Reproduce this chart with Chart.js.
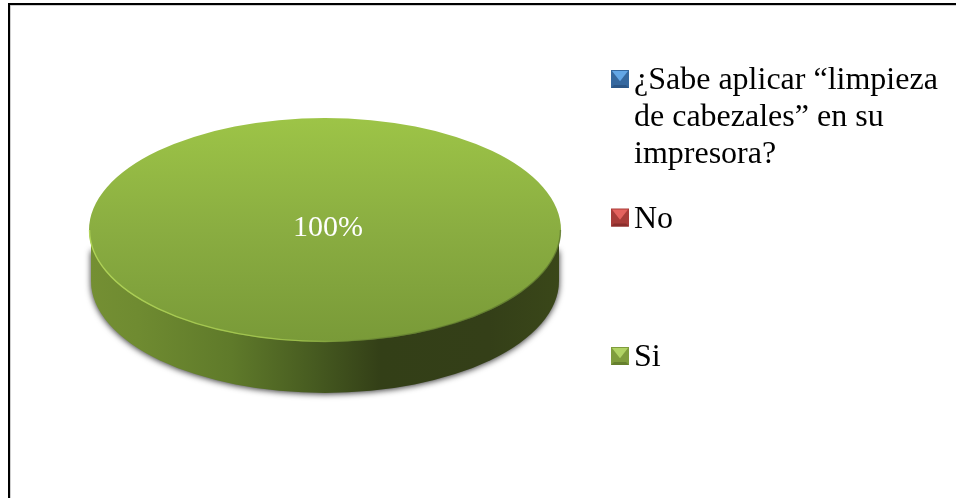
<!DOCTYPE html>
<html><head><meta charset="utf-8">
<script src="https://cdn.jsdelivr.net/npm/chart.js@4/dist/chart.umd.min.js"></script>
<style>html,body{margin:0;background:#fff}canvas{display:block}</style>
</head><body><canvas id="c" width="956" height="498"></canvas>
<script>
const categories = ["¿Sabe aplicar “limpieza de cabezales” en su impresora?", "No", "Si"];
const seriesValues = [0, 0, 100];
const legendLines = [["¿Sabe aplicar “limpieza", "de cabezales” en su", "impresora?"], ["No"], ["Si"]];
const legendBaselines = [89, 227.5, 366];
const markerBase = ["#35689f", "#a83c39", "#7f9c3c"];
const markerLight = ["#62a6e6", "#e4625e", "#b0d264"];
const markerDark = ["#2b5687", "#8a2e2c", "#66802e"];

const cfg = { tilt: 112 / 236, centerY: 230, depth: 51, sideInset: 2, labelFont: '30px "Liberation Serif"', legendFont: '32px "Liberation Serif"' };

function tx(ctx, a) {
  ctx.translate(a.x, cfg.centerY);
  ctx.scale(1, cfg.tilt);
  ctx.translate(-a.x, -a.y);
}
function slice(chart) { return chart.getDatasetMeta(0).data[seriesValues.length - 1]; }

const pie3d = {
  id: "pie3d",
  beforeDraw(chart) {
    const c = chart.ctx;
    c.save();
    c.fillStyle = "#000"; c.fillRect(8, 3, 948, 2); c.fillRect(8, 3, 2, 495);
    c.fillStyle = "#bbb"; c.fillRect(10, 5, 946, .7); c.fillRect(10, 5, .7, 493);
    c.restore();
  },
  beforeDatasetsDraw(chart) {
    const c = chart.ctx, a = slice(chart), r = a.outerRadius - cfg.sideInset, ry = a.outerRadius * cfg.tilt, cy = cfg.centerY, d = cfg.depth;
    c.save();
    c.beginPath();
    c.moveTo(a.x - r, cy + 20);
    c.lineTo(a.x - r, cy + d);
    c.ellipse(a.x, cy + d, r, ry, 0, Math.PI, 0, true);
    c.lineTo(a.x + r, cy + 20);
    c.closePath();
    const g = c.createLinearGradient(a.x - r, 0, a.x + r, 0);
    g.addColorStop(0, "#748f33"); g.addColorStop(.1, "#6f8b31"); g.addColorStop(.3, "#5f7a2a");
    g.addColorStop(.48, "#465a20"); g.addColorStop(.62, "#333f17"); g.addColorStop(.85, "#343f18"); g.addColorStop(1, "#3a4719");
    c.fillStyle = g;
    c.shadowColor = "rgba(0,0,0,.8)"; c.shadowBlur = 6; c.shadowOffsetY = 1;
    c.fill();
    c.shadowColor = "transparent";
    c.beginPath();
    c.moveTo(a.x - r, cy);
    c.lineTo(a.x - r, cy + d);
    c.lineTo(a.x + r, cy + d);
    c.lineTo(a.x + r, cy);
    c.closePath();
    c.fill();
    c.restore();
    c.save();
    tx(c, a);
  },
  afterDatasetsDraw(chart) {
    const c = chart.ctx, a = slice(chart);
    c.restore();
    const r = a.outerRadius, ry = r * cfg.tilt, cy = cfg.centerY;
    c.save();
    const s = c.createLinearGradient(a.x - r, 0, a.x + r, 0);
    s.addColorStop(0, "rgba(180,215,90,.9)"); s.addColorStop(.45, "rgba(165,200,80,.8)");
    s.addColorStop(.6, "rgba(90,115,45,.5)"); s.addColorStop(1, "rgba(70,90,35,.5)");
    c.strokeStyle = s; c.lineWidth = 1.4;
    c.beginPath(); c.ellipse(a.x, cy, r - .5, ry - .5, 0, Math.PI, 0, true); c.stroke();
    const total = seriesValues.reduce((p, v) => p + v, 0);
    c.font = cfg.labelFont; c.fillStyle = "#fff"; c.textAlign = "center"; c.textBaseline = "alphabetic";
    c.fillText(Math.round(seriesValues[2] / total * 100) + "%", a.x + 3, 236);
    c.restore();
  },
  afterDraw(chart) {
    const c = chart.ctx, x = 611, S = 18;
    c.save();
    c.font = cfg.legendFont; c.textAlign = "left"; c.textBaseline = "alphabetic";
    legendLines.forEach((ls, i) => {
      const base = legendBaselines[i], m = base - 19;
      const poly = (pts, col) => { c.fillStyle = col; c.beginPath(); pts.forEach((p, k) => k ? c.lineTo(x + p[0], m + p[1]) : c.moveTo(x + p[0], m + p[1])); c.closePath(); c.fill(); };
      poly([[0,0],[S,0],[S,S],[0,S]], markerBase[i]);
      poly([[0,S],[S,S],[S-3,S-3],[3,S-3]], markerDark[i]);
      poly([[1,1],[S-1,1],[S/2,S*.62]], markerLight[i]);
      c.fillStyle = "#000";
      ls.forEach((t, k) => c.fillText(t, 634, base + k * 37.2));
    });
    c.restore();
  }
};

new Chart(document.getElementById("c"), {
  type: "pie",
  data: {
    labels: categories,
    datasets: [{
      data: seriesValues,
      borderWidth: 0,
      backgroundColor(ctx) {
        const a = ctx.chart.chartArea;
        if (!a || ctx.dataIndex !== 2) return markerBase[ctx.dataIndex];
        const g = ctx.chart.ctx.createLinearGradient(0, a.top, 0, a.bottom);
        g.addColorStop(0, "#9dc447"); g.addColorStop(.5, "#8aad41"); g.addColorStop(1, "#799a38");
        return g;
      }
    }]
  },
  options: {
    responsive: false, animation: false,
    layout: { padding: { left: 89, right: 395, top: 13, bottom: 13 } },
    plugins: { legend: { display: false }, tooltip: { enabled: false } }
  },
  plugins: [pie3d]
});
</script></body></html>
